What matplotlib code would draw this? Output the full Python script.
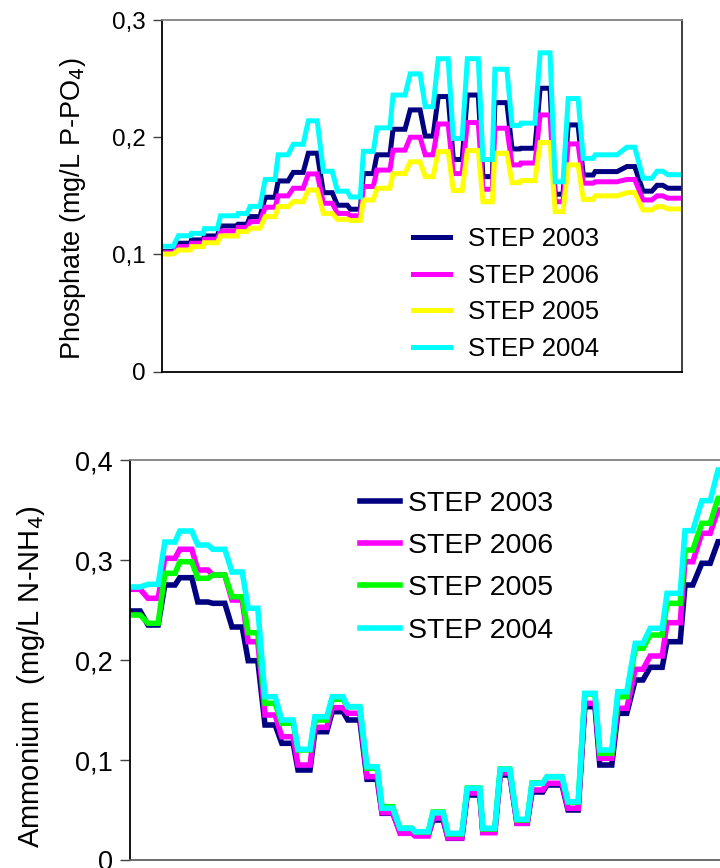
import numpy as np
import matplotlib
matplotlib.use("Agg")
import matplotlib.pyplot as plt
from matplotlib.ticker import FixedLocator, FuncFormatter

plt.rcParams['font.family'] = ['Liberation Sans', 'DejaVu Sans']

# ---------------- data: phosphate (top panel) ----------------
# position along the transect (% of length), start / end of each reading plateau
po4_start = [0, 3.1, 5.6, 8.1, 11.2, 14.6, 16.9, 19.8, 22.3, 25.2, 28.1, 31.0, 33.7, 36.2,
             38.7, 41.3, 44.4, 47.7, 50.6, 53.1, 56.0, 58.7, 61.7, 64.0, 67.3, 69.0, 72.7,
             75.6, 78.1, 81.0, 83.3, 89.4, 92.5, 95.2, 97.3]
po4_end = [2.1, 5.4, 7.9, 10.6, 14.4, 16.3, 18.8, 21.7, 24.2, 27.1, 29.8, 32.7, 35.6, 38.1,
           40.6, 43.8, 46.7, 49.6, 52.1, 55.0, 57.7, 60.8, 63.5, 66.3, 68.8, 71.7, 74.6,
           77.1, 80.0, 82.9, 87.5, 90.9, 94.2, 96.3, 100]
po4_2003 = [.1024, .1096, .1124, .1158, .1243, .1258, .1323, .1488, .1627, .170, .1864, .1527,
            .142, .1386, .169, .185, .2068, .2233, .201, .2347, .181, .236, .1664, .2295,
            .190, .1906, .2418, .1514, .2105, .1678, .1707, .175, .154, .159, .1565]
po4_2006 = [.1015, .1067, .1096, .113, .120, .123, .128, .1403, .150, .1565, .1687, .1437,
            .135, .133, .158, .172, .189, .200, .185, .2113, .169, .2125, .1556, .2077,
            .1764, .178, .219, .145, .1943, .1608, .162, .164, .1465, .150, .148]
po4_2005 = [.1004, .1038, .1067, .110, .1158, .1195, .1224, .1323, .1408, .145, .155, .135,
            .130, .129, .1465, .1565, .169, .179, .1664, .1877, .1545, .1886, .145, .1863,
            .1613, .163, .1954, .1365, .1764, .147, .150, .1527, .138, .1408, .1388]
po4_2004 = [.107, .116, .118, .122, .133, .135, .141, .164, .185, .194, .214, .171,
            .154, .149, .188, .208, .236, .254, .226, .267, .199, .267, .181, .258,
            .210, .212, .272, .162, .233, .182, .185, .1915, .165, .171, .168]

# ---------------- data: ammonium (bottom panel) ----------------
nh4_start = [0, 3.0, 5.8, 8.3, 11.3, 13.8, 17.0, 19.7, 22.5, 25.3, 28.0, 30.8, 33.7, 36.3,
             39.5, 42.0, 45.0, 47.5, 50.5, 53.0, 56.2, 58.8, 61.7, 64.5, 67.0, 69.5, 73.0,
             75.8, 78.3, 81.3, 84.2, 86.7, 89.5, 92.5, 95.3, 98.0]
nh4_end = [1.7, 4.7, 7.5, 10.3, 13.0, 15.8, 18.7, 21.3, 24.2, 27.2, 30.0, 32.8, 35.5, 38.3,
           41.2, 43.8, 47.0, 49.7, 52.2, 55.3, 58.3, 60.8, 63.3, 66.2, 68.8, 72.0, 74.7,
           77.5, 80.3, 82.8, 85.5, 88.7, 91.7, 93.8, 96.7, 100]
nh4_2003 = [.249, .235, .275, .2823, .258, .2567, .233, .1993, .135, .1167, .090, .1283,
            .1483, .140, .0807, .0467, .0283, .025, .040, .0217, .065, .0283, .085, .0367,
            .068, .075, .050, .1533, .095, .1467, .180, .1927, .2183, .275, .2967, .3183]
nh4_2006 = [.2707, .2617, .3017, .3107, .290, .285, .260, .2183, .145, .1233, .095, .1327,
            .1523, .1467, .0833, .0473, .0267, .024, .042, .022, .067, .0273, .087, .0367,
            .070, .0767, .0517, .1567, .1017, .1517, .1907, .204, .2373, .2983, .3267, .350]
nh4_2005 = [.245, .2367, .2867, .2983, .2817, .285, .2633, .2273, .1567, .1367, .110, .140,
            .1607, .1533, .0917, .0533, .0317, .028, .048, .026, .072, .031, .091, .040,
            .077, .0833, .058, .166, .1067, .1633, .2117, .225, .2567, .310, .3367, .3617]
nh4_2004 = [.273, .2757, .318, .329, .315, .3107, .288, .2517, .1633, .140, .1107, .1433,
            .1633, .1533, .0933, .0517, .0317, .0283, .0473, .0267, .0717, .0317, .0907, .0407,
            .0767, .0833, .0583, .1667, .110, .1683, .2167, .2317, .2667, .3293, .3593, .390]

labels = ["STEP 2003", "STEP 2006", "STEP 2005", "STEP 2004"]
po4_series = [po4_2003, po4_2006, po4_2005, po4_2004]
nh4_series = [nh4_2003, nh4_2006, nh4_2005, nh4_2004]
po4_colors = ["#000080", "#FF00FF", "#FFFF00", "#00FFFF"]
nh4_colors = ["#000080", "#FF00FF", "#00FF00", "#00FFFF"]


def plateau_xy(starts, ends, vals):
    x = np.column_stack([starts, ends]).ravel()
    y = np.repeat(np.asarray(vals, dtype=float), 2)
    return x, y


comma = FuncFormatter(lambda v, p: "0" if abs(v) < 1e-9 else f"{v:.1f}".replace(".", ","))

fig = plt.figure(figsize=(7.2, 8.68), dpi=100)

# ---------------- top panel ----------------
ax1 = fig.add_axes([162.3 / 720, 1 - 371.7 / 868, (682 - 162.3) / 720, (371.7 - 20) / 868])
for vals, c, lab in zip(po4_series, po4_colors, labels):
    x, y = plateau_xy(po4_start, po4_end, vals)
    ax1.plot(x, y, color=c, lw=3.6, label=lab, solid_joinstyle='miter')
ax1.set_xlim(0, 100)
ax1.set_ylim(0, 0.3)
ax1.yaxis.set_major_locator(FixedLocator([0, 0.1, 0.2, 0.3]))
ax1.yaxis.set_major_formatter(comma)
ax1.set_xticks([])
ax1.tick_params(axis='y', length=6.5, width=1.0, color='#404040', pad=5.5, labelsize=17.5)
ax1.set_ylabel("Phosphate (mg/L P-PO$_4$)", fontsize=19.5)
ax1.yaxis.set_label_coords(-0.143, 0.4626)
for s, col in zip(['left', 'bottom', 'top', 'right'], ['black', 'black', '#808080', '#303030']):
    ax1.spines[s].set_color(col)
    ax1.spines[s].set_linewidth(1.3)
ax1.legend(loc='upper left', bbox_to_anchor=(413 / 720, 1 - 227 / 868),
           bbox_transform=fig.transFigure, frameon=False, fontsize=18.5,
           handlelength=1.44, handletextpad=0.7, labelspacing=0.49,
           borderpad=0, borderaxespad=0)

# ---------------- bottom panel ----------------
ax2 = fig.add_axes([130 / 720, 1 - 860 / 868, (730 - 130) / 720, (860 - 460) / 868])
for vals, c, lab in zip(nh4_series, nh4_colors, labels):
    x, y = plateau_xy(nh4_start, nh4_end, vals)
    ax2.plot(x, y, color=c, lw=4.0, label=lab, solid_joinstyle='miter')
ax2.set_xlim(0, 100)
ax2.set_ylim(0, 0.4)
ax2.yaxis.set_major_locator(FixedLocator([0, 0.1, 0.2, 0.3, 0.4]))
ax2.yaxis.set_major_formatter(comma)
ax2.set_xticks([])
ax2.tick_params(axis='y', length=7, width=1.0, color='#404040', pad=5.5, labelsize=19.5)
ax2.set_ylabel("Ammonium  (mg/L N-NH$_4$)", fontsize=21)
ax2.yaxis.set_label_coords(-0.138, 0.4575)
for s, col in zip(['left', 'bottom', 'top', 'right'], ['black', '#606060', '#808080', '#808080']):
    ax2.spines[s].set_color(col)
    ax2.spines[s].set_linewidth(1.3)
ax2.legend(loc='upper left', bbox_to_anchor=(360 / 720, 1 - 491 / 868),
           bbox_transform=fig.transFigure, frameon=False, fontsize=20.5,
           handlelength=1.4, handletextpad=0.28, labelspacing=0.57,
           borderpad=0, borderaxespad=0)

fig.savefig("out.png", dpi=100)
